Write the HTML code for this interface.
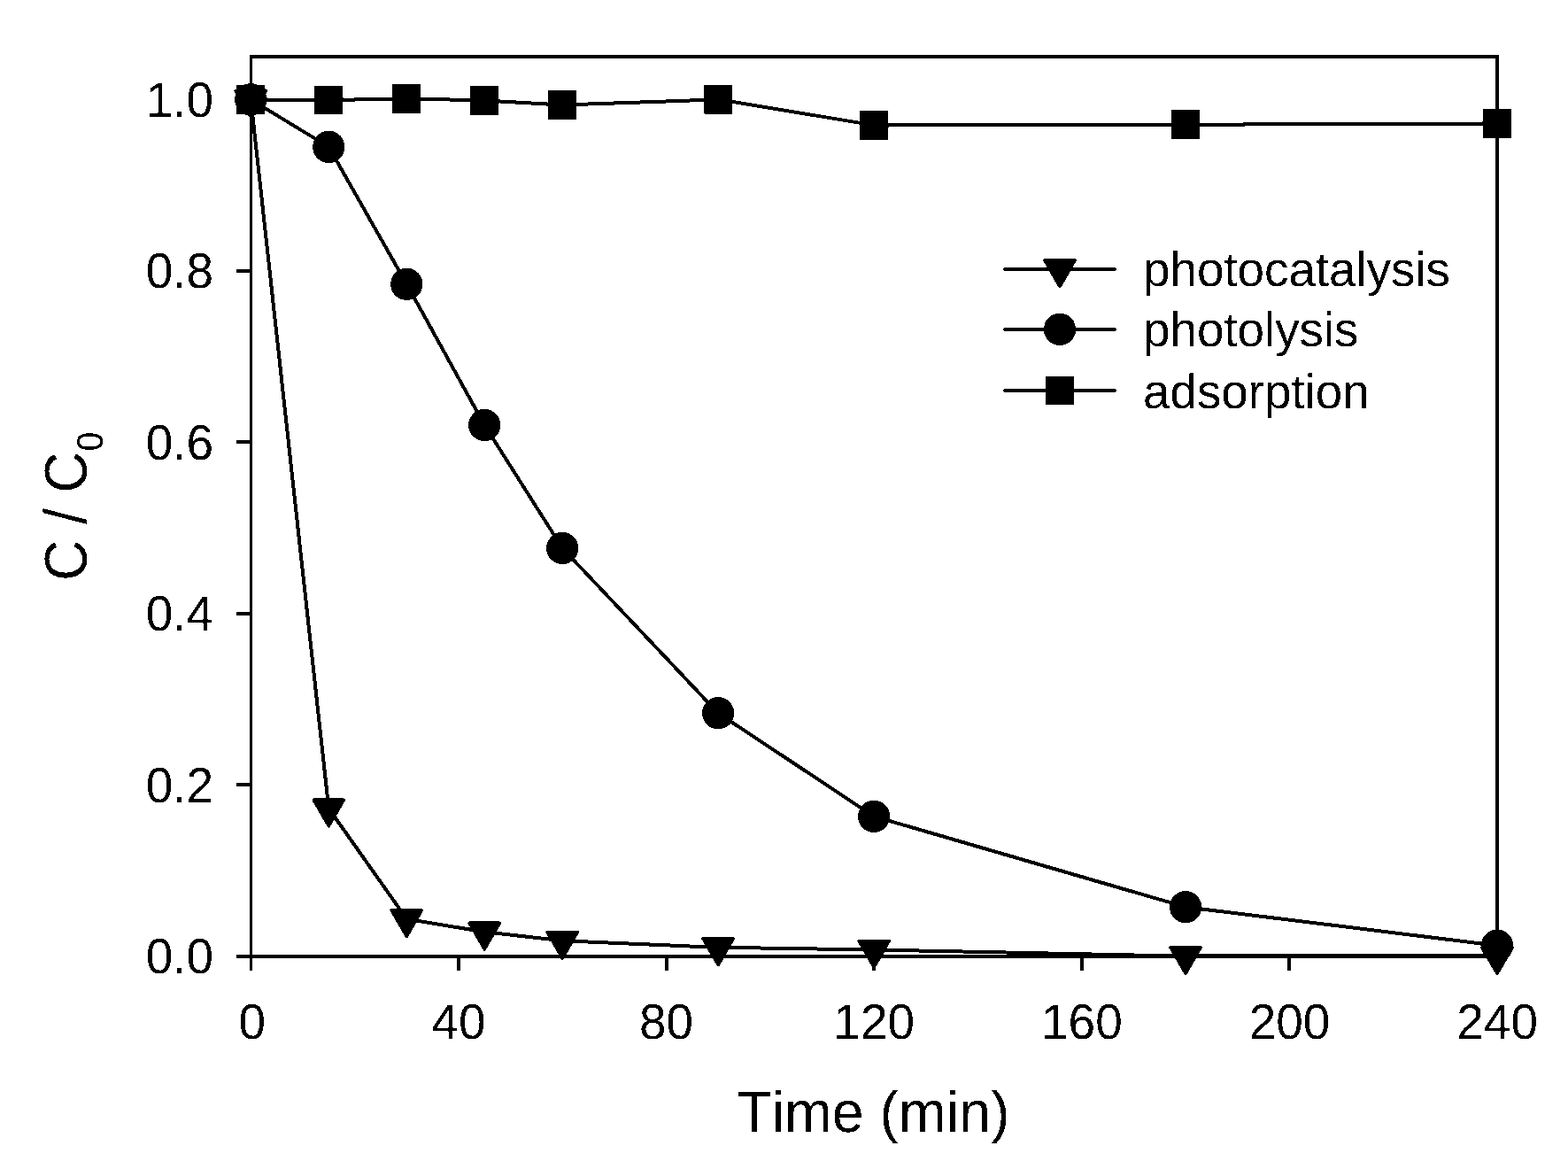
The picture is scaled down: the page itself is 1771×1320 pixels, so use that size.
<!DOCTYPE html>
<html lang="en">
<head>
<meta charset="utf-8">
<title>C / C0 vs Time (min)</title>
<style>
html,body{margin:0;padding:0;background:#fff;}
body{width:1771px;height:1320px;overflow:hidden;}
svg{display:block;position:absolute;left:0;top:0;}
text{font-family:"Liberation Sans",Arial,Helvetica,sans-serif;fill:#000;font-kerning:none;font-variant-ligatures:none;text-rendering:geometricPrecision;}
.tick{font-size:55px;}
.title{font-size:64.5px;}
.sub{font-size:39px;}
.ln{fill:none;stroke:#000;stroke-width:4;stroke-linejoin:round;stroke-linecap:butt;}
.ax{fill:#000;}
</style>
</head>
<body>
<svg width="1771" height="1320" viewBox="0 0 1771 1320">
<defs>
<filter id="bw" filterUnits="userSpaceOnUse" x="0" y="0" width="1771" height="1320" color-interpolation-filters="sRGB">
<feComponentTransfer><feFuncA type="discrete" tableValues="0 1"/></feComponentTransfer>
</filter>
</defs>
<rect x="0" y="0" width="1771" height="1320" fill="#fff"/>
<g filter="url(#bw)">

<g class="ax">
<rect x="282" y="62" width="3" height="1034"/>
<rect x="1689" y="62" width="4" height="1020"/>
<rect x="282" y="62" width="1411" height="4"/>
<rect x="267" y="1078" width="1426" height="4"/>
<rect x="516" y="1080" width="4" height="16"/>
<rect x="751" y="1080" width="4" height="16"/>
<rect x="985" y="1080" width="4" height="16"/>
<rect x="1220" y="1080" width="4" height="16"/>
<rect x="1454" y="1080" width="4" height="16"/>
<rect x="267" y="884" width="16" height="4"/>
<rect x="267" y="691" width="16" height="4"/>
<rect x="267" y="497" width="16" height="4"/>
<rect x="267" y="304" width="16" height="4"/>
<rect x="267" y="110" width="16" height="4"/>
</g>
<polyline class="ln" points="283.3,112.4 371.3,913.0 459.3,1037.7 547.2,1052.2 635.2,1062.3 811.2,1069.8 987.1,1072.4 1339.1,1079.6 1691.0,1079.6"/>
<polygon points="266.2,102.5 300.4,102.5 283.3,132.2" fill="#000" stroke="#000" stroke-width="3.4" stroke-linejoin="round"/>
<polygon points="354.1,903.1 388.4,903.1 371.3,932.8" fill="#000" stroke="#000" stroke-width="3.4" stroke-linejoin="round"/>
<polygon points="442.1,1027.8 476.4,1027.8 459.3,1057.5" fill="#000" stroke="#000" stroke-width="3.4" stroke-linejoin="round"/>
<polygon points="530.1,1042.3 564.4,1042.3 547.2,1072.0" fill="#000" stroke="#000" stroke-width="3.4" stroke-linejoin="round"/>
<polygon points="618.1,1052.4 652.4,1052.4 635.2,1082.1" fill="#000" stroke="#000" stroke-width="3.4" stroke-linejoin="round"/>
<polygon points="794.0,1059.9 828.3,1059.9 811.2,1089.6" fill="#000" stroke="#000" stroke-width="3.4" stroke-linejoin="round"/>
<polygon points="970.0,1062.5 1004.3,1062.5 987.1,1092.2" fill="#000" stroke="#000" stroke-width="3.4" stroke-linejoin="round"/>
<polygon points="1321.9,1069.7 1356.2,1069.7 1339.1,1099.4" fill="#000" stroke="#000" stroke-width="3.4" stroke-linejoin="round"/>
<polygon points="1673.8,1069.7 1708.1,1069.7 1691.0,1099.4" fill="#000" stroke="#000" stroke-width="3.4" stroke-linejoin="round"/>
<polyline class="ln" points="283.3,112.4 371.3,165.9 459.3,320.8 547.2,480.0 635.2,619.0 811.2,805.3 987.1,921.9 1339.1,1024.2 1691.0,1067.8"/>
<ellipse cx="283.3" cy="112.4" rx="18.1" ry="18.2" fill="#000"/>
<ellipse cx="371.3" cy="165.9" rx="18.1" ry="18.2" fill="#000"/>
<ellipse cx="459.3" cy="320.8" rx="18.1" ry="18.2" fill="#000"/>
<ellipse cx="547.2" cy="480.0" rx="18.1" ry="18.2" fill="#000"/>
<ellipse cx="635.2" cy="619.0" rx="18.1" ry="18.2" fill="#000"/>
<ellipse cx="811.2" cy="805.3" rx="18.1" ry="18.2" fill="#000"/>
<ellipse cx="987.1" cy="921.9" rx="18.1" ry="18.2" fill="#000"/>
<ellipse cx="1339.1" cy="1024.2" rx="18.1" ry="18.2" fill="#000"/>
<ellipse cx="1691.0" cy="1067.8" rx="18.1" ry="18.2" fill="#000"/>
<polyline class="ln" points="283.3,112.4 371.3,112.9 459.3,111.4 547.2,113.4 635.2,118.6 811.2,112.3 987.1,141.4 1339.1,140.7 1691.0,139.4"/>
<rect x="267.2" y="96.2" width="32.2" height="32.5" fill="#000"/>
<rect x="355.2" y="96.7" width="32.2" height="32.5" fill="#000"/>
<rect x="443.2" y="95.2" width="32.2" height="32.5" fill="#000"/>
<rect x="531.1" y="97.2" width="32.2" height="32.5" fill="#000"/>
<rect x="619.1" y="102.3" width="32.2" height="32.5" fill="#000"/>
<rect x="795.1" y="96.0" width="32.2" height="32.5" fill="#000"/>
<rect x="971.0" y="125.2" width="32.2" height="32.5" fill="#000"/>
<rect x="1323.0" y="124.4" width="32.2" height="32.5" fill="#000"/>
<rect x="1674.9" y="123.2" width="32.2" height="32.5" fill="#000"/>
<text class="tick" transform="translate(241.2,1098.6) scale(1,1.02)" text-anchor="end">0.0</text>
<text class="tick" transform="translate(241.2,906.1) scale(1,1.02)" text-anchor="end">0.2</text>
<text class="tick" transform="translate(241.2,712.1) scale(1,1.02)" text-anchor="end">0.4</text>
<text class="tick" transform="translate(241.2,518.6) scale(1,1.02)" text-anchor="end">0.6</text>
<text class="tick" transform="translate(241.2,324.6) scale(1,1.02)" text-anchor="end">0.8</text>
<text class="tick" transform="translate(241.2,132.0) scale(1,1.02)" text-anchor="end">1.0</text>
<text class="tick" transform="translate(284.7,1172.6) scale(1,1.02)" text-anchor="middle">0</text>
<text class="tick" transform="translate(518.0,1172.6) scale(1,1.02)" text-anchor="middle">40</text>
<text class="tick" transform="translate(752.6,1172.6) scale(1,1.02)" text-anchor="middle">80</text>
<text class="tick" transform="translate(987.2,1172.6) scale(1,1.02)" text-anchor="middle">120</text>
<text class="tick" transform="translate(1221.9,1172.6) scale(1,1.02)" text-anchor="middle">160</text>
<text class="tick" transform="translate(1456.5,1172.6) scale(1,1.02)" text-anchor="middle">200</text>
<text class="tick" transform="translate(1691.1,1172.6) scale(1,1.02)" text-anchor="middle">240</text>
<text class="title" transform="translate(986.4,1277.8) scale(1,1.015)" text-anchor="middle">Time (min)</text>
<text style="font-size:64px" transform="translate(98.1,655.85) rotate(-90) scale(1,1.06)" x="0" y="0">C / C<tspan class="sub" dx="0.6" dy="16.3">0</tspan></text>
<line class="ln" style="stroke-linecap:round" x1="1135.0" y1="303.9" x2="1259.0" y2="303.9"/>
<polygon points="1179.9,294.0 1214.1,294.0 1197.0,323.7" fill="#000" stroke="#000" stroke-width="3.4" stroke-linejoin="round"/>
<text class="tick" transform="translate(1291.1,323.4) scale(0.995,1)">photocatalysis</text>
<line class="ln" style="stroke-linecap:round" x1="1135.0" y1="371.9" x2="1259.0" y2="371.9"/>
<ellipse cx="1197.0" cy="371.9" rx="18.1" ry="18.2" fill="#000"/>
<text class="tick" transform="translate(1291.1,391.4) scale(0.995,1)">photolysis</text>
<line class="ln" style="stroke-linecap:round" x1="1135.0" y1="441.0" x2="1259.0" y2="441.0"/>
<rect x="1180.9" y="424.8" width="32.2" height="32.5" fill="#000"/>
<text class="tick" transform="translate(1291.1,460.5) scale(0.995,1)">adsorption</text>
</g>
</svg>
</body>
</html>
